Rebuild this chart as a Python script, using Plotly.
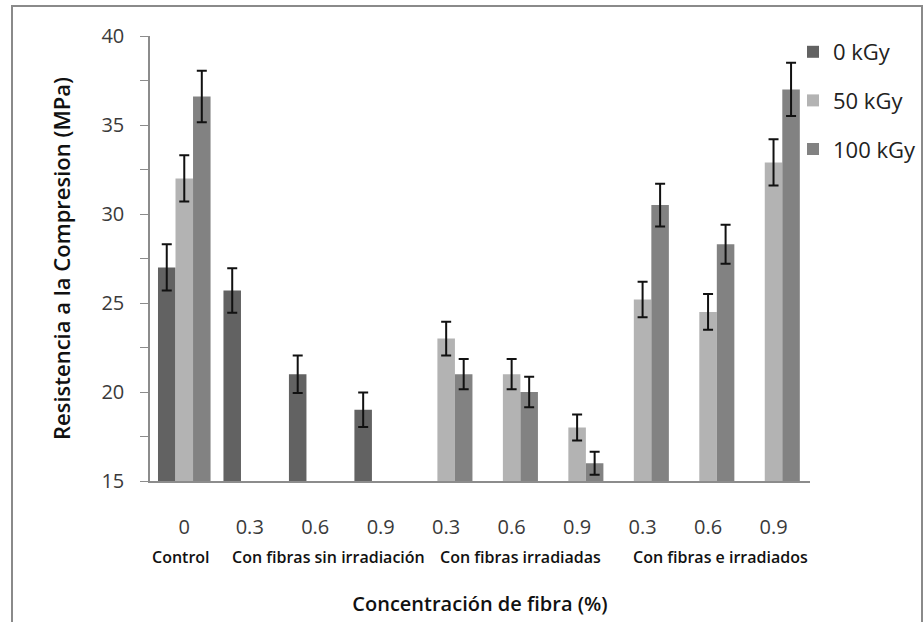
import plotly.graph_objects as go

# ---------------- data ----------------
categories = ["C-0", "S-0.3", "S-0.6", "S-0.9", "I-0.3", "I-0.6", "I-0.9", "E-0.3", "E-0.6", "E-0.9"]
tick_labels = ["0", "0.3", "0.6", "0.9", "0.3", "0.6", "0.9", "0.3", "0.6", "0.9"]
group_labels = ["Control", "Con fibras sin irradiación", "Con fibras irradiadas", "Con fibras e irradiados"]

series_names = ["0 kGy", "50 kGy", "100 kGy"]
vals_0 = [27.0, 25.7, 21.0, 19.0, None, None, None, None, None, None]
err_0 = [1.3, 1.25, 1.05, 0.97, None, None, None, None, None, None]
vals_50 = [32.0, None, None, None, 23.0, 21.0, 18.0, 25.2, 24.5, 32.9]
err_50 = [1.3, None, None, None, 0.95, 0.85, 0.73, 1.0, 1.0, 1.3]
vals_100 = [36.6, None, None, None, 21.0, 20.0, 16.0, 30.5, 28.3, 37.0]
err_100 = [1.45, None, None, None, 0.85, 0.85, 0.65, 1.2, 1.1, 1.5]

colors = ["#626262", "#b3b3b3", "#828282"]

# ---------------- figure ----------------
FONT = "Open Sans"
fig = go.Figure()
for i, (name, v, e) in enumerate(zip(series_names, [vals_0, vals_50, vals_100], [err_0, err_50, err_100])):
    fig.add_trace(go.Bar(
        x=categories, y=v, name=name,
        marker=dict(color=colors[i], line=dict(width=0)),
        error_y=dict(type="data", array=e, visible=True, color="#111111", thickness=2, width=5),
        legendgroup=name,
    ))

# plot area: x 150..810, y 36..481 (px)
L, R, T, B = 150, 924 - 810, 36, 622 - 481
pw, ph = 660, 445

def px_x(p):
    return (p - L) / pw

def px_y(p):
    return (481 - p) / ph

fig.update_layout(
    width=924, height=622,
    margin=dict(l=L, r=R, t=T, b=B, autoexpand=False),
    paper_bgcolor="white", plot_bgcolor="white",
    barmode="group", bargap=0.197, bargroupgap=0,
    font=dict(family=FONT, color="#222222"),
    showlegend=True,
    legend=dict(
        x=px_x(793), y=px_y(31), xanchor="left", yanchor="top",
        font=dict(family=FONT, size=22, color="#222222"),
        traceorder="grouped", tracegroupgap=17,
        itemwidth=30, bgcolor="rgba(0,0,0,0)",
    ),
    xaxis=dict(
        type="category", categoryorder="array", categoryarray=categories,
        tickmode="array", tickvals=categories, ticktext=tick_labels,
        ticks="", showgrid=False, zeroline=False,
        showline=True, linecolor="#8c8c8c", linewidth=1.5,
        tickfont=dict(family=FONT, size=20, color="#3a3a3a"),
        ticklabelstandoff=27,
        title=dict(text="Concentración de fibra (%)",
                   font=dict(family=FONT, size=20, color="#111111", weight=600),
                   standoff=58),
    ),
    yaxis=dict(
        range=[15, 40], tickmode="linear", tick0=15, dtick=5,
        ticks="outside", ticklen=8, tickcolor="#8c8c8c", tickwidth=1,
        minor=dict(dtick=2.5, tick0=15, ticks="outside", ticklen=8, tickcolor="#8c8c8c", tickwidth=1, showgrid=False),
        showgrid=False, zeroline=False,
        showline=True, linecolor="#8c8c8c", linewidth=1.5,
        tickfont=dict(family=FONT, size=20, color="#3a3a3a"),
        ticklabelstandoff=12,
        title=dict(text="Resistencia a la Compresion (MPa)",
                   font=dict(family=FONT, size=22, color="#111111", weight=600),
                   standoff=25),
    ),
)

# group labels below the tick labels
group_x = [-0.05, 2.2, 5.14, 8.19]
for gx, gl in zip(group_x, group_labels):
    fig.add_annotation(x=gx, xref="x", y=px_y(557), yref="paper", text=gl,
                       showarrow=False, xanchor="center", yanchor="middle",
                       font=dict(family=FONT, size=16, color="#111111", weight=600))

# outer chart border
fig.add_shape(type="rect", xref="paper", yref="paper",
              x0=px_x(12), x1=px_x(922), y0=px_y(660), y1=px_y(6),
              line=dict(color="#8a8a8a", width=2), fillcolor="rgba(0,0,0,0)", layer="below")

fig.write_html("out.html")
